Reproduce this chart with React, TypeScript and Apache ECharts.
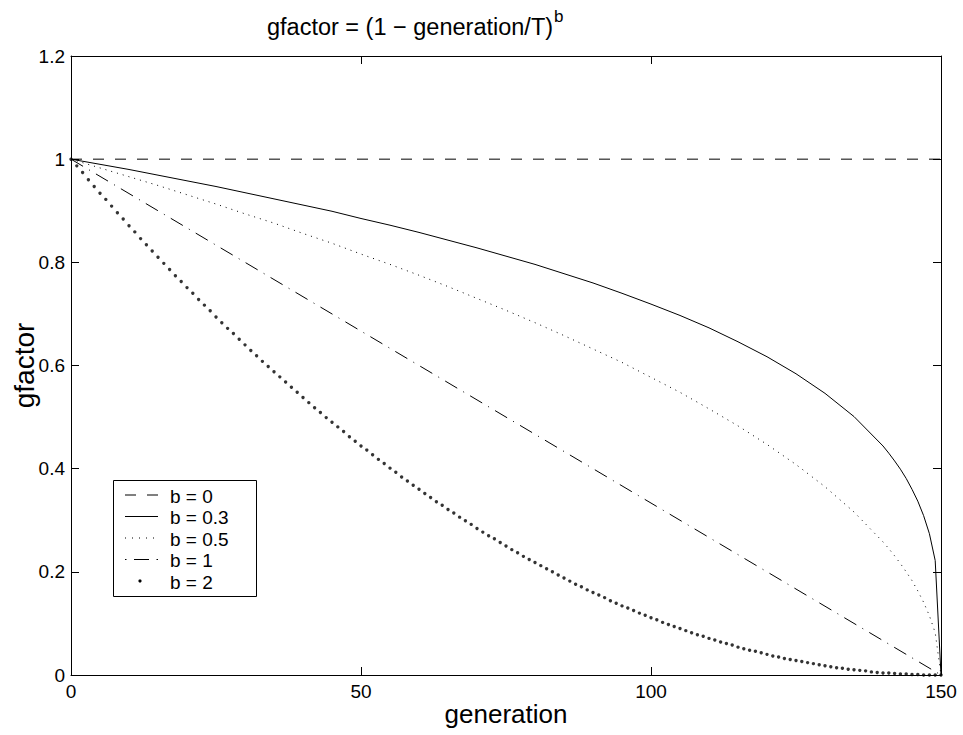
import React, { useEffect, useRef } from "react";
import * as echarts from "echarts";

const FONT = "Liberation Sans";

// generation values for the dotted-marker series (every generation)
const genAll = [
  0, 1, 2, 3, 4, 5, 6, 7, 8, 9, 10, 11, 12, 13, 14, 15, 16, 17, 18, 19, 20, 21, 22, 23, 24, 25, 26, 27, 28, 29,
  30, 31, 32, 33, 34, 35, 36, 37, 38, 39, 40, 41, 42, 43, 44, 45, 46, 47, 48, 49, 50, 51, 52, 53, 54, 55, 56, 57, 58, 59,
  60, 61, 62, 63, 64, 65, 66, 67, 68, 69, 70, 71, 72, 73, 74, 75, 76, 77, 78, 79, 80, 81, 82, 83, 84, 85, 86, 87, 88, 89,
  90, 91, 92, 93, 94, 95, 96, 97, 98, 99, 100, 101, 102, 103, 104, 105, 106, 107, 108, 109, 110, 111, 112, 113, 114, 115, 116, 117, 118, 119,
  120, 121, 122, 123, 124, 125, 126, 127, 128, 129, 130, 131, 132, 133, 134, 135, 136, 137, 138, 139, 140, 141, 142, 143, 144, 145, 146, 147, 148, 149, 150,
];

// b = 2 (dots)
const valB2 = [
  1.0, 0.987, 0.974, 0.96, 0.947, 0.934, 0.922, 0.909, 0.896, 0.884, 0.871, 0.859, 0.846, 0.834, 0.822, 0.81, 0.798, 0.786, 0.774, 0.763,
  0.751, 0.74, 0.728, 0.717, 0.706, 0.694, 0.683, 0.672, 0.662, 0.651, 0.64, 0.629, 0.619, 0.608, 0.598, 0.588, 0.578, 0.568, 0.558, 0.548,
  0.538, 0.528, 0.518, 0.509, 0.499, 0.49, 0.481, 0.472, 0.462, 0.453, 0.444, 0.436, 0.427, 0.418, 0.41, 0.401, 0.393, 0.384, 0.376, 0.368,
  0.36, 0.352, 0.344, 0.336, 0.329, 0.321, 0.314, 0.306, 0.299, 0.292, 0.284, 0.277, 0.27, 0.264, 0.257, 0.25, 0.243, 0.237, 0.23, 0.224,
  0.218, 0.212, 0.206, 0.2, 0.194, 0.188, 0.182, 0.176, 0.171, 0.165, 0.16, 0.155, 0.15, 0.144, 0.139, 0.134, 0.13, 0.125, 0.12, 0.116,
  0.111, 0.107, 0.102, 0.098, 0.094, 0.09, 0.086, 0.082, 0.078, 0.075, 0.071, 0.068, 0.064, 0.061, 0.058, 0.054, 0.051, 0.048, 0.046, 0.043,
  0.04, 0.037, 0.035, 0.032, 0.03, 0.028, 0.026, 0.024, 0.022, 0.02, 0.018, 0.016, 0.014, 0.013, 0.011, 0.01, 0.009, 0.008, 0.006, 0.005,
  0.004, 0.004, 0.003, 0.002, 0.002, 0.001, 0.001, 0.0, 0.0, 0.0, 0.0,
];

// generation values for the curved lines
const genLine = [
  0, 5, 10, 15, 20, 25, 30, 35, 40, 45, 50, 55, 60, 65, 70, 75, 80, 85, 90, 95, 100, 105, 110, 115, 120, 125, 130, 135, 140,
  141, 142, 143, 144, 145, 146, 147, 148, 149, 150,
];

// b = 0.3 (solid)
const valB03 = [
  1.0, 0.99, 0.98, 0.969, 0.958, 0.947, 0.935, 0.923, 0.911, 0.899, 0.885, 0.872, 0.858, 0.843, 0.828, 0.812, 0.796, 0.778, 0.76, 0.74,
  0.719, 0.697, 0.673, 0.646, 0.617, 0.584, 0.546, 0.501, 0.444, 0.43, 0.415, 0.399, 0.381, 0.36, 0.337, 0.309, 0.274, 0.222, 0.0,
];

// b = 0.5 (dotted)
const valB05 = [
  1.0, 0.983, 0.966, 0.949, 0.931, 0.913, 0.894, 0.876, 0.856, 0.837, 0.816, 0.796, 0.775, 0.753, 0.73, 0.707, 0.683, 0.658, 0.632, 0.606,
  0.577, 0.548, 0.516, 0.483, 0.447, 0.408, 0.365, 0.316, 0.258, 0.245, 0.231, 0.216, 0.2, 0.183, 0.163, 0.141, 0.115, 0.082, 0.0,
];

// b = 1 (dash-dot) and b = 0 (dashed)
const genEnds = [0, 150];
const valB1 = [1, 0];
const valB0 = [1, 1];

const legendLabels = ["b = 0", "b = 0.3", "b = 0.5", "b = 1", "b = 2"];
const xTicks = [0, 50, 100, 150];
const yTicks = [0, 0.2, 0.4, 0.6, 0.8, 1, 1.2];

const pairs = (xs: number[], ys: number[]) => xs.map((x, i) => [x, ys[i]]);

export default function App() {
  const ref = useRef<HTMLDivElement>(null);
  useEffect(() => {
    if (!ref.current) return;
    const chart = echarts.init(ref.current, undefined, { renderer: "svg" });
    const axisCommon = {
      axisLine: { show: true, onZero: false, lineStyle: { color: "#000", width: 1 } },
      axisTick: { show: true, inside: true, length: 8, lineStyle: { color: "#000" } },
      splitLine: { show: false },
    };
    const lx = 125, rx = 158, textX = 170, rowY0 = 495, rowDy = 21.5;
    const rowY = (i: number) => rowY0 + i * rowDy;
    const legendGraphics: any[] = [
      { type: "rect", shape: { x: 113.5, y: 480.5, width: 143, height: 116 }, style: { fill: "#fff", stroke: "#000", lineWidth: 1 }, z: 100 },
      { type: "line", shape: { x1: lx, y1: rowY(0), x2: rx, y2: rowY(0) }, style: { stroke: "#000", lineWidth: 1, lineDash: [11, 11] }, z: 101 },
      { type: "line", shape: { x1: lx, y1: rowY(1), x2: rx, y2: rowY(1) }, style: { stroke: "#000", lineWidth: 1 }, z: 101 },
      { type: "line", shape: { x1: lx, y1: rowY(2), x2: rx, y2: rowY(2) }, style: { stroke: "#000", lineWidth: 1, lineDash: [1, 6] }, z: 101 },
      { type: "line", shape: { x1: lx, y1: rowY(3), x2: lx + 1.5, y2: rowY(3) }, style: { stroke: "#000", lineWidth: 1 }, z: 101 },
      { type: "line", shape: { x1: 134, y1: rowY(3), x2: 149, y2: rowY(3) }, style: { stroke: "#000", lineWidth: 1 }, z: 101 },
      { type: "line", shape: { x1: rx - 1.5, y1: rowY(3), x2: rx, y2: rowY(3) }, style: { stroke: "#000", lineWidth: 1 }, z: 101 },
      { type: "circle", shape: { cx: 140, cy: rowY(4), r: 1.6 }, style: { fill: "#000" }, z: 101 },
    ];
    legendLabels.forEach((t, i) => {
      legendGraphics.push({
        type: "text",
        x: textX,
        y: rowY(i) + 1,
        style: { text: t, fontSize: 19, fontFamily: FONT, fill: "#000", verticalAlign: "middle", align: "left" },
        z: 101,
      });
    });

    chart.setOption({
      animation: false,
      backgroundColor: "#fff",
      title: {
        text: "{a|gfactor = (1 − generation/T)}{s|b}",
        left: 262,
        top: 3,
        textStyle: {
          fontWeight: "normal",
          rich: {
            a: { fontSize: 23.5, fontFamily: FONT, color: "#000", fontWeight: "normal" },
            s: { fontSize: 17, fontFamily: FONT, color: "#000", fontWeight: "normal", padding: [0, 0, 20, 1] },
          },
        },
      },
      grid: { left: 71, top: 56, width: 870, height: 619, containLabel: false, outerBoundsMode: "none" },
      xAxis: [
        {
          type: "value",
          min: 0,
          max: 150,
          interval: 50,
          position: "bottom",
          ...axisCommon,
          name: "generation",
          nameLocation: "middle",
          nameGap: 26,
          nameMoveOverlap: false,
          nameTextStyle: { fontSize: 26, fontFamily: FONT, color: "#000" },
          axisLabel: { show: true, margin: 7, fontSize: 19, fontFamily: FONT, color: "#000", customValues: xTicks },
        },
        {
          type: "value",
          min: 0,
          max: 150,
          interval: 50,
          position: "top",
          ...axisCommon,
          axisLabel: { show: false },
        },
      ],
      yAxis: [
        {
          type: "value",
          min: 0,
          max: 1.2,
          interval: 0.2,
          position: "left",
          ...axisCommon,
          name: "gfactor",
          nameLocation: "middle",
          nameGap: 33,
          nameMoveOverlap: false,
          nameRotate: 90,
          nameTextStyle: { fontSize: 28, fontFamily: FONT, color: "#000" },
          axisLabel: { show: true, margin: 6, fontSize: 19, fontFamily: FONT, color: "#000", customValues: yTicks },
        },
        {
          type: "value",
          min: 0,
          max: 1.2,
          interval: 0.2,
          position: "right",
          ...axisCommon,
          axisLabel: { show: false },
        },
      ],
      series: [
        {
          name: "b = 0",
          type: "line",
          data: pairs(genEnds, valB0),
          symbol: "none",
          lineStyle: { color: "#000", width: 1, type: [11, 11] },
        },
        {
          name: "b = 0.3",
          type: "line",
          data: pairs(genLine, valB03),
          symbol: "none",
          lineStyle: { color: "#000", width: 1, type: "solid" },
        },
        {
          name: "b = 0.5",
          type: "line",
          data: pairs(genLine, valB05),
          symbol: "none",
          lineStyle: { color: "#000", width: 1, type: [1, 5] },
        },
        {
          name: "b = 1",
          type: "line",
          data: pairs(genEnds, valB1),
          symbol: "none",
          lineStyle: { color: "#000", width: 1, type: [14, 7, 1, 7] },
        },
        {
          name: "b = 2",
          type: "scatter",
          data: pairs(genAll, valB2),
          symbol: "circle",
          symbolSize: 3.4,
          itemStyle: { color: "#000" },
        },
      ],
      graphic: legendGraphics,
    });
    return () => chart.dispose();
  }, []);
  return (
    <div
      ref={ref}
      style={{ position: "fixed", left: 0, top: 0, width: 963, height: 735, background: "#fff" }}
    />
  );
}
